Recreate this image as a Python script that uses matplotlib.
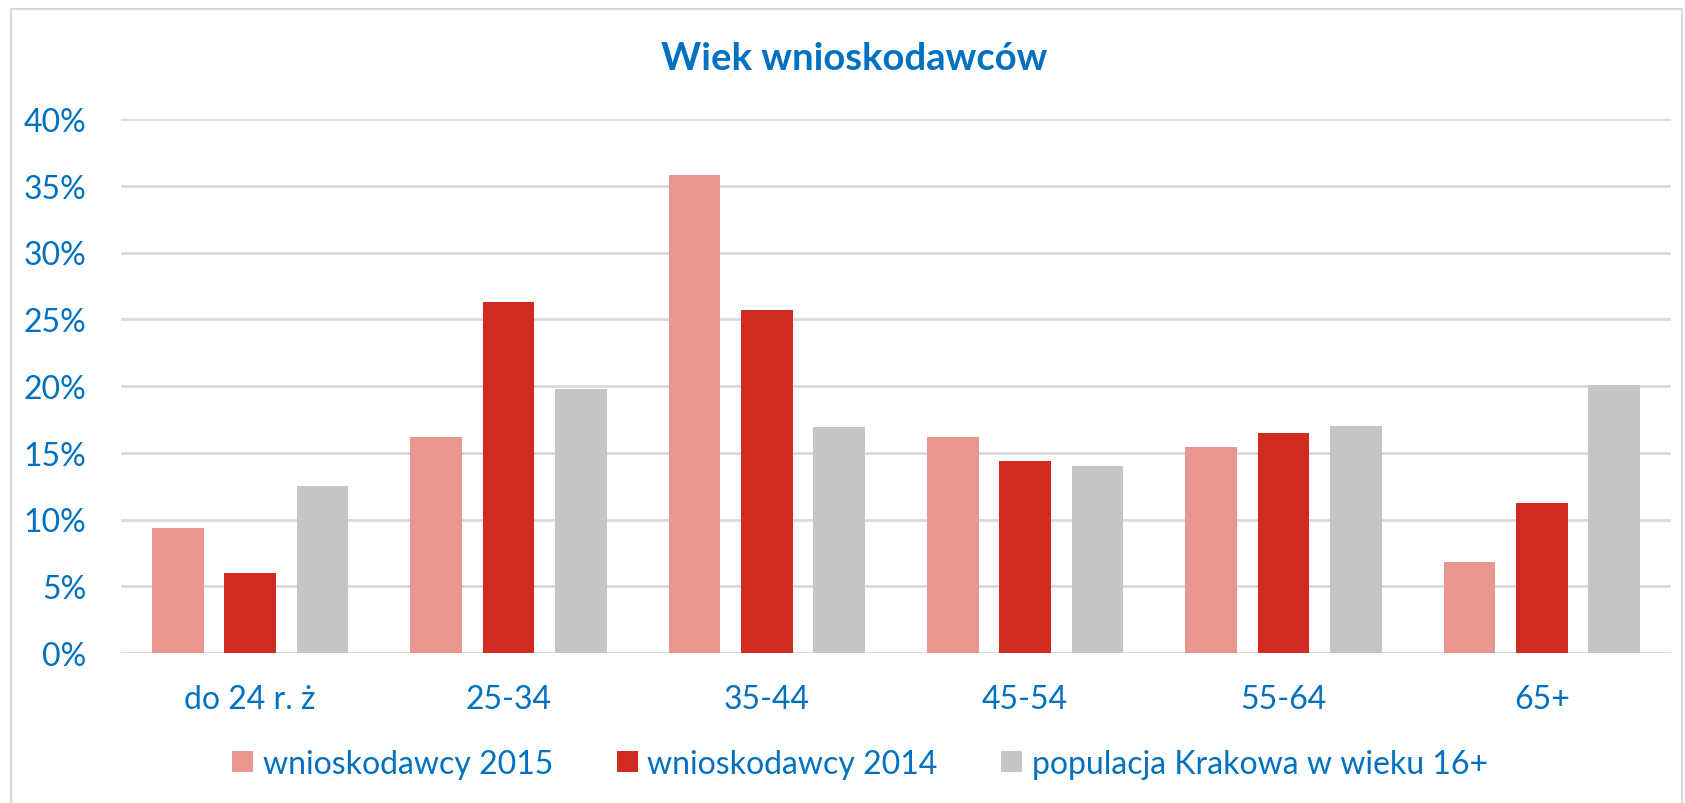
import matplotlib
matplotlib.use("Agg")
import matplotlib.pyplot as plt
from matplotlib.patches import Rectangle
import numpy as np

plt.rcParams['font.family'] = ['Lato', 'DejaVu Sans']

# dane
kategorie = ['do 24 r. ż', '25-34', '35-44', '45-54', '55-64', '65+']
wn_2015 = [0.094, 0.162, 0.358, 0.162, 0.154, 0.068]
wn_2014 = [0.060, 0.263, 0.257, 0.144, 0.165, 0.112]
populacja = [0.125, 0.198, 0.169, 0.140, 0.170, 0.201]
serie = ['wnioskodawcy 2015', 'wnioskodawcy 2014', 'populacja Krakowa w wieku 16+']
kolory = ['#E8968F', '#D02B20', '#C5C5C7']
niebieski = '#0070C0'

W, H = 1685, 804
fig = plt.figure(figsize=(W / 100, H / 100), dpi=100)
# ramka wokół wykresu
fig.patches.append(Rectangle((11 / W, -0.05), (W - 14) / W, 1.05 - 10 / H,
                             transform=fig.transFigure, fill=False,
                             edgecolor='#D9D9D9', linewidth=1.5))

ax = fig.add_axes([121 / W, 1 - 654 / H, (1671 - 121) / W, (654 - 120) / H])
x = np.arange(len(kategorie))
szer = 0.2
for i, (dane, kol, nazwa) in enumerate(zip([wn_2015, wn_2014, populacja], kolory, serie)):
    ax.bar(x + (i - 1) * 0.28, dane, width=szer, color=kol, label=nazwa, zorder=3)

ax.set_xlim(-0.5, len(kategorie) - 0.5)
ax.set_ylim(0, 0.40)
ax.set_yticks(np.arange(0, 0.401, 0.05))
ax.set_yticklabels(['{:.0f}%'.format(v * 100) for v in np.arange(0, 0.401, 0.05)])
ax.set_xticks(x)
ax.set_xticklabels(kategorie)
ax.grid(axis='y', color='#D9D9D9', linewidth=2, zorder=0)
ax.tick_params(axis='both', length=0, colors=niebieski, labelsize=23)
ax.tick_params(axis='y', pad=25)
ax.tick_params(axis='x', pad=22)
for s in ax.spines.values():
    s.set_visible(False)

fig.text(854 / W, 1 - 59 / H, 'Wiek wnioskodawców', ha='center', va='center',
         fontsize=27.5, fontweight='bold', color=niebieski)

leg = fig.legend(loc='center', bbox_to_anchor=(860 / W, 1 - 765 / H), ncol=3,
                 frameon=False, fontsize=23, handlelength=0.65, handleheight=0.65,
                 handletextpad=0.3, columnspacing=2.0)
for t in leg.get_texts():
    t.set_color(niebieski)

fig.savefig('out.png', dpi=100)
